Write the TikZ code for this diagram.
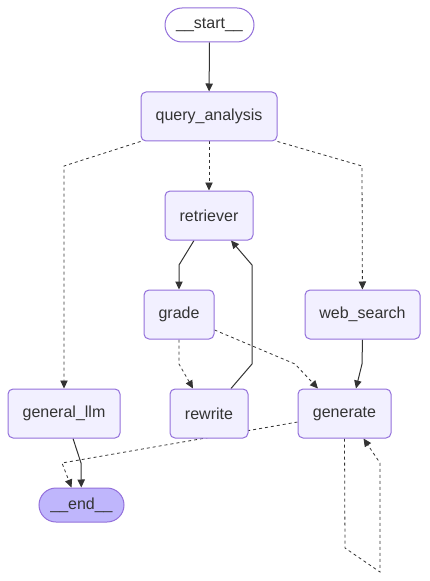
\documentclass[tikz,border=0pt]{standalone}
\usepackage{fontspec}
\setmainfont{Liberation Sans}
\usepackage{tikz}
\usetikzlibrary{arrows.meta,backgrounds}
\definecolor{graphpurple}{HTML}{9370DB}
\definecolor{graphfill}{HTML}{F2F0FF}
\definecolor{graphlast}{HTML}{BFB6FC}
\definecolor{graphink}{HTML}{333333}

\begin{document}
\begin{tikzpicture}[
  x=0.75pt, y=-0.75pt,
  box/.style={draw=graphpurple, line width=0.75pt, fill=graphfill, rounded corners=3.75pt, minimum height=36.75pt, inner xsep=0pt, text=graphink, font=\fontsize{12}{14}\selectfont},
  term/.style={box, minimum height=25.5pt, rounded corners=12.75pt},
  arrow/.style={-{Triangle[length=6pt,width=5.5pt]}, line width=0.75pt, draw=graphink},
  cond/.style={arrow, dash pattern=on 2.25pt off 2.25pt, line width=0.6pt}
]
\useasboundingbox (0,0) rectangle (429,581);

\node[term, fill=white, minimum width=66.75pt] (start) at (209.5,25) {\_\_start\_\_};
\node[box, minimum width=102pt] (qa) at (209,116.5) {query\_analysis};
\node[box, minimum width=66pt] (ret) at (209,215.5) {retriever};
\node[box, minimum width=52.5pt] (grade) at (179,314.5) {grade};
\node[box, minimum width=86.25pt] (web) at (362.5,314.5) {web\_search};
\node[box, minimum width=84pt] (gllm) at (64,413.5) {general\_llm};
\node[box, minimum width=58.5pt] (rw) at (209,413.5) {rewrite};
\node[box, minimum width=69.75pt] (gen) at (344.5,413.5) {generate};
\node[term, fill=graphlast, minimum width=63.75pt] (end) at (81.5,505) {\_\_end\_\_};

\begin{scope}[on background layer]
\draw[arrow] (start) -- (qa);
\draw[cond] (qa.south west) -- (64,166) -- (gllm);
\draw[cond] (qa) -- (ret);
\draw[cond] (qa.south east) -- (362,166) -- (web);
\draw[arrow] ([xshift=-11.25pt]ret.south) -- (179,265) -- (grade);
\draw[cond] (grade.south) -- (179,364) -- ([xshift=-12pt]rw.north);
\draw[cond] ([yshift=-11.6pt]grade.east) -- (295,364) -- ([xshift=-19.9pt]gen.north);
\draw[arrow] ([xshift=16.5pt]rw.north) -- (252,364) -- (252,265) -- ([xshift=16.5pt]ret.south);
\draw[arrow] (web.south) -- (362,364) -- ([xshift=8.6pt]gen.north);
\draw[arrow] ([xshift=6.75pt]gllm.south) -- (81,463) -- (end);
\draw[cond] ([yshift=-6.4pt]gen.west) -- (62,463) -- ([xshift=-7.5pt]end.north);
\draw[cond] (gen.south) -- (345,548) -- (380,572) -- (380,463) -- ([xshift=14.25pt]gen.south);
\end{scope}
\end{tikzpicture}
\end{document}
